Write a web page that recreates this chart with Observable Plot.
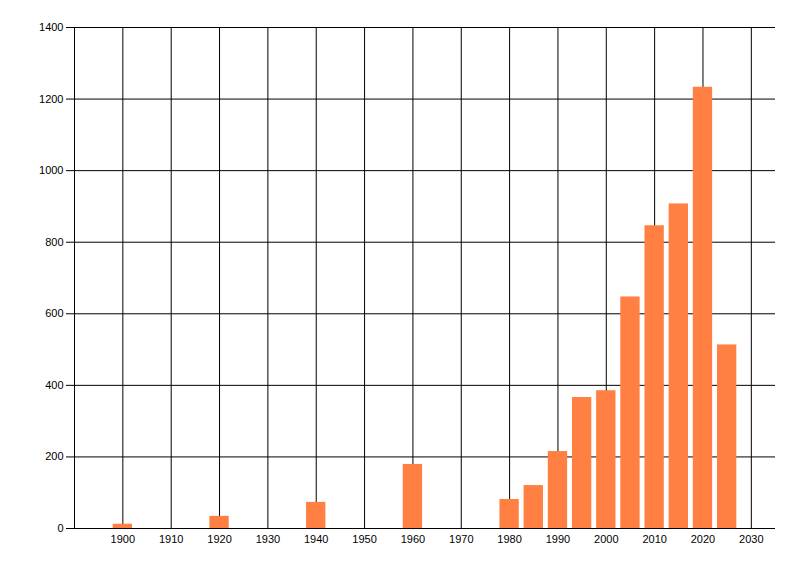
<!DOCTYPE html>
<html>
<head>
<meta charset="utf-8">
<script src="https://cdn.jsdelivr.net/npm/d3@7"></script>
<script src="https://cdn.jsdelivr.net/npm/@observablehq/plot@0.6"></script>
<style>
  body { margin: 0; background: #fff; }
</style>
</head>
<body>
<div id="chart"></div>
<script>
const years  = [1900, 1920, 1940, 1960, 1980, 1985, 1990, 1995, 2000, 2005, 2010, 2015, 2020, 2025]
const counts = [12, 34, 73, 179, 81, 120, 215, 366, 385, 647, 846, 907, 1233, 513]
const xTicks = [1900, 1910, 1920, 1930, 1940, 1950, 1960, 1970, 1980, 1990, 2000, 2010, 2020, 2030]
const yTicks = [0, 200, 400, 600, 800, 1000, 1200, 1400]
const xDomain = [1890, 2035]

const data = years.map((year, i) => ({year, count: counts[i]}))

let chart = Plot.plot({
  width: 800,
  height: 576,
  marginTop: 27,
  marginLeft: 74,
  marginRight: 25,
  marginBottom: 48,
  style: {fontFamily: 'Liberation Sans, Arial, sans-serif', fontSize: '11px', color: '#000'},
  x: {domain: xDomain, label: null},
  y: {domain: [0, 1400], label: null},
  marks: [
    Plot.gridX({ticks: xTicks, stroke: '#000', strokeOpacity: 1}),
    Plot.gridY({ticks: yTicks, stroke: '#000', strokeOpacity: 1}),
    Plot.ruleX([xDomain[0]], {stroke: '#000'}),
    Plot.axisX({ticks: xTicks, tickSize: 0, tickPadding: 7, tickFormat: d => String(d), fill: '#000'}),
    Plot.axisY({ticks: yTicks, tickSize: 8, tickPadding: 3, tickFormat: d => String(d), stroke: '#000', fill: '#000'}),
    Plot.rectY(data, {
      x1: d => d.year - 2,
      x2: d => d.year + 2,
      y: 'count',
      fill: '#ff8042'
    })
  ]
})

d3.select('#chart').append(() => chart)
</script>
</body>
</html>
